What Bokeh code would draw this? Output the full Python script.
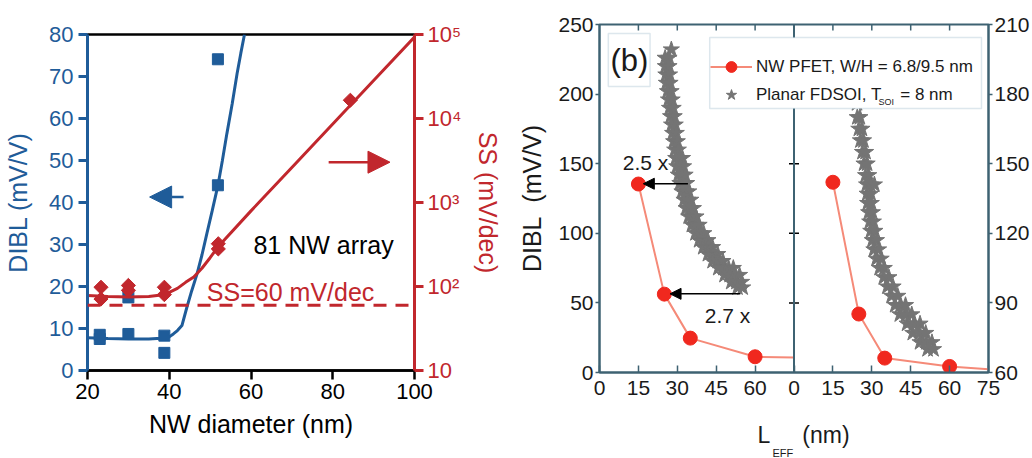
import math
from bokeh.plotting import figure
from bokeh.layouts import row
from bokeh.models import (Range1d, LogScale, LinearAxis, FixedTicker, Span, Label, Arrow,
                          NormalHead, BoxAnnotation, Legend, LegendItem, Title)
from bokeh.embed import file_html
from bokeh.resources import INLINE

# ---------------- data: panel (a) ----------------
dibl_x = [23, 23, 30, 30, 38.8, 38.8, 51.9, 51.9]
dibl_y = [8.5, 7.5, 8.7, 17.4, 8.3, 4.2, 44.1, 74.1]
dibl_fit_x = [20, 25, 30, 35, 38, 40, 41, 42, 43.1, 44.3, 45.5, 46.8, 48, 49.2, 50.5, 51.9, 53, 54.1, 55.4, 56.6, 57.5, 58.4]
dibl_fit_y = [7.8, 7.6, 7.5, 7.5, 7.7, 8.0, 8.7, 9.5, 10.7, 15.0, 19.0, 23.0, 27.5, 32.6, 38.0, 44.0, 50.0, 56.4, 63.5, 70.7, 75.5, 80.0]
ss_x = [23.3, 23.3, 30, 30, 38.8, 38.8, 52, 52, 84.3]
ss_y = [98, 71, 103, 90, 98, 80, 323, 280, 16500]
ss_fit_x = [20, 25, 30, 35, 38, 40, 42, 44, 46, 48, 50, 52, 60, 70, 80, 90, 100]
ss_fit_y = [78, 76, 75, 76, 79, 85, 95, 112, 130, 165, 220, 300, 795, 2610, 8600, 28300, 93300]
ss_ideal = 60
a_xticks = [20, 40, 60, 80, 100]
a_yticks = [0, 10, 20, 30, 40, 50, 60, 70, 80]
ss_ticks = [10, 100, 1000, 10000, 100000]
ss_tick_labels = ["10", "10\u00b2", "10\u00b3", "10\u2074", "10\u2075"]

# ---------------- data: panel (b) ----------------
nw_x = [15, 25, 35, 60]
nw_left_y = [135.4, 56.3, 24.7, 11.3]
nw_left_line_x = [15, 25, 35, 60, 75]
nw_left_line_y = [135.4, 56.3, 24.7, 11.3, 10.8]
nw_right_y = [142, 85.2, 66.2, 62.6]
nw_right_line_x = [15, 25, 35, 60, 75]
nw_right_line_y = [142, 85.2, 66.2, 62.6, 61.4]

# digitized star cloud, left sub-panel (DIBL in mV/V)
star_left_x = [27.7, 25.3, 26.8, 25.4, 26.8, 25.6, 27.0, 25.8, 27.2, 26.2, 27.6,
               26.6, 28.0, 27.0, 28.4, 27.4, 28.8, 27.8, 29.2, 28.2, 29.6, 28.6, 30.0,
               29.0, 30.4, 29.4, 30.8, 32.0, 29.8, 31.2, 32.4, 30.4, 31.8, 33.0,
               31.0, 32.4, 33.6, 31.8, 33.2, 34.4, 32.6, 34.0, 35.2, 33.4, 34.8, 36.2,
               34.4, 35.8, 37.2, 35.6, 37.0, 38.4, 37.0, 38.6, 40.2, 38.4, 40.0, 41.8,
               40.0, 41.8, 43.6, 41.8, 43.6, 45.6, 43.6, 45.6, 47.6,
               45.8, 47.8, 49.8, 51.6, 48.2, 50.2, 52.2, 54.0, 50.8, 52.8, 54.8, 53.2, 55.2]
star_left_y = [232, 226, 226, 220, 220, 214, 214, 208, 208, 202, 202,
               196, 196, 190, 190, 184, 184, 178, 178, 172, 172, 166, 166,
               160, 160, 154, 154, 154, 148, 148, 148, 142, 142, 142,
               136, 136, 136, 130, 130, 130, 124, 124, 124, 118, 118, 118,
               112, 112, 112, 106, 106, 106, 100, 100, 100, 95, 95, 95,
               90, 90, 90, 85, 85, 85, 80, 80, 80,
               75, 75, 75, 75, 70, 70, 70, 70, 65, 65, 65, 61, 61]
# digitized star cloud, right sub-panel (right axis scale)
star_right_x = [23.0, 23.4, 23.8, 24.0, 24.3, 24.4, 25.4, 25.0, 26.2, 25.6, 26.8,
                26.4, 27.6, 27.0, 28.2, 27.6, 28.8, 28.0, 29.4, 31.0, 28.2, 29.6,
                28.4, 29.8, 28.8, 30.2, 29.2, 30.6, 29.6, 31.2, 30.2, 31.8, 30.8, 32.6,
                31.8, 33.6, 33.0, 34.8, 34.6, 36.6, 36.0, 38.2, 37.6, 40.0,
                39.0, 41.0, 43.0, 40.8, 43.2, 45.4, 43.6, 46.2, 48.6,
                45.8, 48.4, 50.8, 48.6, 51.0, 53.2, 51.5, 53.8]
star_right_y = [200, 194, 188, 182, 176, 170, 170, 165, 165, 160, 160,
                155, 155, 150, 150, 145, 145, 141, 141, 141, 137, 137,
                133, 133, 129, 129, 125, 125, 121, 121, 117, 117, 113, 113,
                109, 109, 105, 105, 101, 101, 97, 97, 93, 93,
                89, 89, 89, 85, 85, 85, 81, 81, 81,
                77, 77, 77, 73, 73, 73, 70, 70]
b_xticks = [0, 15, 30, 45, 60, 75, 90, 105, 120, 135, 150]
b_xtick_labels = ["0", "15", "30", "45", "60", "0", "15", "30", "45", "60", "75"]
b_yticks_left = [0, 50, 100, 150, 200, 250]
b_yticks_right = [60, 90, 120, 150, 180, 210]

# ---------------- styles ----------------
BLUE = "#1f5c99"
RED = "#c1272d"
FA = "Liberation Sans"
FB = "Liberation Sans"
BAX = "#3e6272"
BRED = "#f0281e"
BLINE = "#f58a78"
GRAY = "#747474"
BOXC = "#8db0c4"
TXT = "#1a1a1a"
NB = "\u00a0"

# ================= panel (a) =================
p1 = figure(width=515, height=458, x_range=Range1d(20, 100), y_range=Range1d(0, 80),
            output_backend="svg", toolbar_location=None,
            min_border_left=87, min_border_right=101, min_border_top=34, min_border_bottom=88)
p1.frame_align = False
p1.extra_y_ranges = {"ss": Range1d(10, 100000)}
p1.extra_y_scales = {"ss": LogScale()}
p1.xgrid.visible = False
p1.ygrid.visible = False
p1.outline_line_color = "black"
p1.outline_line_width = 2.5

xa = p1.xaxis[0]
xa.ticker = FixedTicker(ticks=a_xticks)
xa.axis_line_color = "black"
xa.axis_line_width = 2.5
xa.major_tick_line_color = "black"
xa.major_tick_line_width = 2.5
xa.major_tick_out = 9
xa.major_tick_in = 0
xa.minor_tick_line_color = None
xa.major_label_text_font = FA
xa.major_label_text_font_size = "22px"
xa.major_label_text_color = "black"
xa.major_label_standoff = 4
xa.axis_label = "NW diameter (nm)"
xa.axis_label_text_font = FA
xa.axis_label_text_font_size = "25px"
xa.axis_label_text_font_style = "normal"
xa.axis_label_text_color = "black"
xa.axis_label_standoff = 8

ya = p1.yaxis[0]
ya.ticker = FixedTicker(ticks=a_yticks)
ya.axis_line_color = BLUE
ya.axis_line_width = 3
ya.major_tick_line_color = BLUE
ya.major_tick_line_width = 3
ya.major_tick_out = 9
ya.major_tick_in = 0
ya.minor_tick_line_color = None
ya.major_label_text_font = FA
ya.major_label_text_font_size = "22px"
ya.major_label_text_color = BLUE
ya.major_label_standoff = 5
ya.axis_label = "DIBL (mV/V)"
ya.axis_label_text_font = FA
ya.axis_label_text_font_size = "25px"
ya.axis_label_text_font_style = "normal"
ya.axis_label_text_color = BLUE
ya.axis_label_standoff = 14

ra = LinearAxis(y_range_name="ss", ticker=FixedTicker(ticks=ss_ticks),
                major_label_overrides=dict(zip(ss_ticks, ss_tick_labels)))
ra.axis_line_color = RED
ra.axis_line_width = 3
ra.major_tick_line_color = RED
ra.major_tick_line_width = 3
ra.major_tick_out = 9
ra.major_tick_in = 0
ra.minor_tick_line_color = None
ra.major_label_text_font = FA
ra.major_label_text_font_size = "22px"
ra.major_label_text_color = RED
ra.major_label_standoff = 4
ra.axis_label = "SS (mV/dec)"
ra.axis_label_text_font = FA
ra.axis_label_text_font_size = "25px"
ra.axis_label_text_font_style = "normal"
ra.axis_label_text_color = RED
ra.axis_label_standoff = 10
p1.add_layout(ra, "right")

p1.add_layout(Span(location=ss_ideal, dimension="width", y_range_name="ss",
                   line_color=RED, line_width=3, line_dash="13 9"))
p1.line(dibl_fit_x, dibl_fit_y, line_color=BLUE, line_width=3)
p1.scatter(dibl_x, dibl_y, marker="square", size=11, color=BLUE)
p1.line(ss_fit_x, ss_fit_y, y_range_name="ss", line_color=RED, line_width=3)
p1.scatter(ss_x, ss_y, y_range_name="ss", marker="square", angle=math.pi / 4, size=10, color=RED)

p1.add_layout(Label(x=60.6, y=29.8, text="81 NW array", text_font=FA, text_font_size="25px",
                    text_color="black", text_baseline="middle"))
p1.add_layout(Label(x=49.2, y=18.7, text="SS=60 mV/dec", text_font=FA, text_font_size="25px",
                    text_color=RED, text_baseline="middle"))
p1.add_layout(Arrow(end=NormalHead(size=22, fill_color=BLUE, line_color=BLUE),
                    x_start=43.5, y_start=41.3, x_end=35.2, y_end=41.3,
                    line_color=BLUE, line_width=2.5))
p1.add_layout(Arrow(end=NormalHead(size=22, fill_color=RED, line_color=RED),
                    x_start=79.0, y_start=49.6, x_end=94.0, y_end=49.6,
                    line_color=RED, line_width=2.5))

# ================= panel (b) =================
p2 = figure(width=517, height=458, x_range=Range1d(0, 150), y_range=Range1d(0, 250),
            output_backend="svg", toolbar_location=None,
            min_border_left=81, min_border_right=44, min_border_top=24, min_border_bottom=86)
p2.frame_align = False
p2.extra_x_ranges = {"xr": Range1d(-75, 75)}
p2.extra_y_ranges = {"yr": Range1d(60, 210)}
p2.xgrid.visible = False
p2.ygrid.visible = False
p2.outline_line_color = BAX
p2.outline_line_width = 2

bx = p2.xaxis[0]
bx.ticker = FixedTicker(ticks=b_xticks)
bx.major_label_overrides = dict(zip(b_xticks, b_xtick_labels))
bx.axis_label = NB * 3 + "L" + NB * 5 + "(nm)"
by = p2.yaxis[0]
by.ticker = FixedTicker(ticks=b_yticks_left)
by.axis_label = "DIBL" + NB * 2 + "(mV/V)"
br = LinearAxis(y_range_name="yr", ticker=FixedTicker(ticks=b_yticks_right))
p2.add_layout(br, "right")
for ax in (bx, by, br):
    ax.axis_line_color = BAX
    ax.axis_line_width = 2
    ax.major_tick_line_color = BAX
    ax.major_tick_line_width = 1.5
    ax.minor_tick_line_color = None
    ax.major_label_text_font = FB
    ax.major_label_text_font_size = "21px"
    ax.major_label_text_color = TXT
    ax.axis_label_text_font = FB
    ax.axis_label_text_font_style = "normal"
    ax.axis_label_text_color = TXT
for ax in (by, br):
    ax.major_tick_out = 4
    ax.major_tick_in = 0
    ax.major_label_standoff = 2
bx.major_tick_out = 0
bx.major_tick_in = 7
bx.major_label_standoff = 8
bx.axis_label_text_font_size = "23px"
bx.axis_label_standoff = 24
by.axis_label_text_font_size = "25px"
by.axis_label_standoff = 9
p2.add_layout(Title(text="EFF", align="left", offset=173, standoff=-11,
                    text_font=FB, text_font_size="11px", text_font_style="normal",
                    text_color=TXT), "below")

# middle divider of the two sub-panels, and tick marks on top / middle
p2.add_layout(Span(location=75, dimension="height", line_color=BAX, line_width=2))
p2.scatter([75] * 4, b_yticks_left[1:5], marker="dash", size=10, line_color="black", line_width=1.5)
top_ticks = b_xticks[1:5] + b_xticks[6:10]
p2.scatter(top_ticks, [250] * len(top_ticks), marker="dash", angle=math.pi / 2, size=12,
           line_color=BAX, line_width=1.5)

st_l = p2.scatter(star_left_x, star_left_y, marker="star", size=17, color=GRAY)
p2.scatter(star_right_x, star_right_y, x_range_name="xr", y_range_name="yr",
           marker="star", size=17, color=GRAY)
nl_l = p2.line(nw_left_line_x, nw_left_line_y, line_color=BLINE, line_width=2)
nc_l = p2.scatter(nw_x, nw_left_y, marker="circle", size=14, fill_color=BRED, line_color=BRED)
p2.line(nw_right_line_x, nw_right_line_y, x_range_name="xr", y_range_name="yr",
        line_color=BLINE, line_width=2)
p2.scatter(nw_x, nw_right_y, x_range_name="xr", y_range_name="yr",
           marker="circle", size=14, fill_color=BRED, line_color=BRED)

p2.add_layout(Arrow(end=NormalHead(size=11, fill_color="black", line_color="black"),
                    x_start=34.1, y_start=135.6, x_end=16.9, y_end=135.6,
                    line_color="black", line_width=1.5))
p2.add_layout(Arrow(end=NormalHead(size=11, fill_color="black", line_color="black"),
                    x_start=54.3, y_start=56.5, x_end=27.2, y_end=56.5,
                    line_color="black", line_width=1.5))
p2.add_layout(Label(x=9.0, y=151, text="2.5 x", text_font=FB, text_font_size="21px",
                    text_color=TXT, text_baseline="middle"))
p2.add_layout(Label(x=40.6, y=41, text="2.7 x", text_font=FB, text_font_size="21px",
                    text_color=TXT, text_baseline="middle"))
p2.add_layout(BoxAnnotation(left=3.4, right=19.5, bottom=205.5, top=243.5,
                            fill_alpha=0, line_color=BOXC, line_width=1.5))
p2.add_layout(Label(x=11.5, y=224, text="(b)", text_font=FB, text_font_size="31px",
                    text_color=TXT, text_align="center", text_baseline="middle"))

# legend: white framed box (drawn as annotation) + transparent Bokeh legend on top
p2.add_layout(BoxAnnotation(left=42.5, right=147.3, bottom=189.7, top=240.7,
                            fill_color="white", fill_alpha=1.0,
                            line_color=BOXC, line_width=1.5))
p2.add_layout(Label(x=107.6, y=194.3, text="SOI", text_font=FB, text_font_size="9px",
                    text_color=TXT, text_baseline="alphabetic"))
legend = Legend(items=[LegendItem(label="NW PFET, W/H = 6.8/9.5 nm", renderers=[nl_l, nc_l]),
                       LegendItem(label="Planar FDSOI, T" + NB * 4 + "= 8 nm", renderers=[st_l])],
                location=(111, 264), padding=8, spacing=1, margin=0,
                glyph_width=42, glyph_height=27, label_standoff=4,
                label_text_font=FB, label_text_font_size="17px", label_text_color=TXT,
                border_line_color=None, background_fill_alpha=0.0)
p2.add_layout(legend)

layout = row(p1, p2)
open("out.html", "w").write(file_html(layout, INLINE))
